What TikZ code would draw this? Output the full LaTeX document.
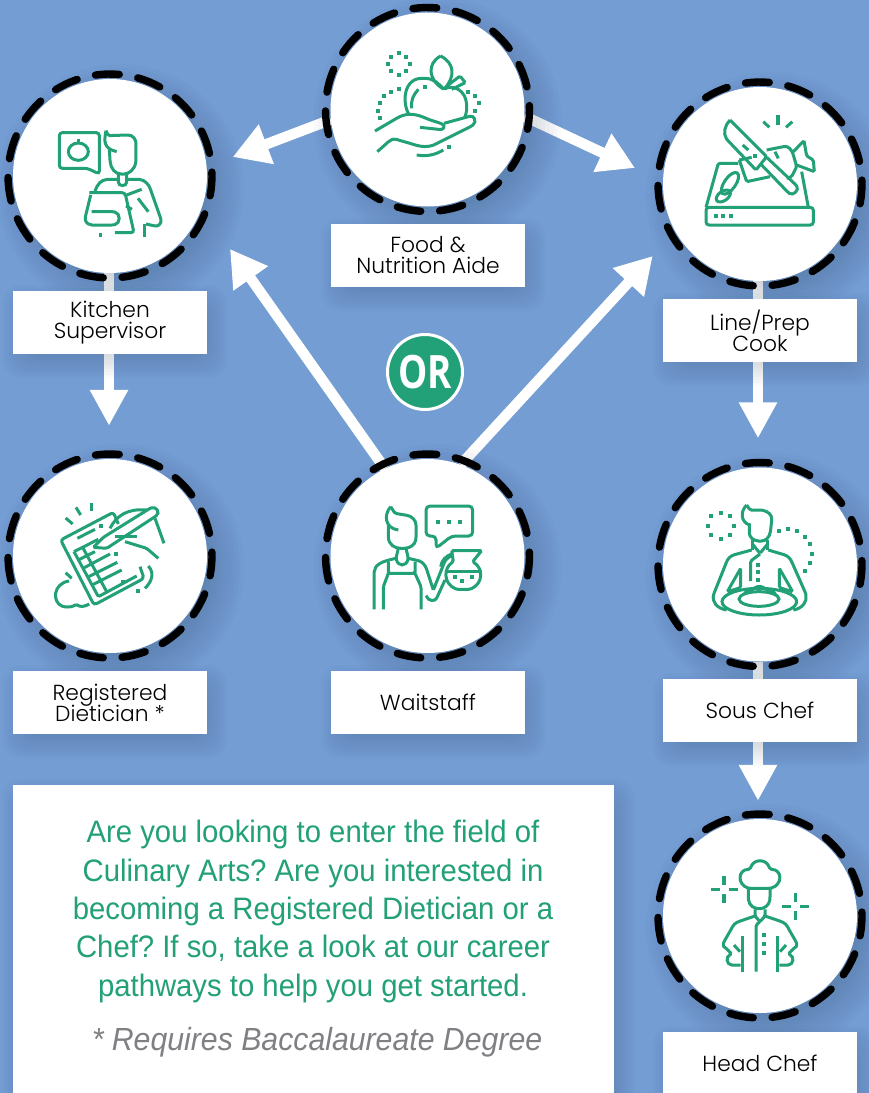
\documentclass[tikz,border=0pt]{standalone}
\usepackage{fontspec}
\usetikzlibrary{arrows.meta,backgrounds}
\setmainfont{Liberation Sans}
\newfontfamily\labelfont{Poppins Light}
\newfontfamily\introfont[FakeStretch=.945]{Liberation Sans}
\newfontfamily\orfont[FakeStretch=.8]{Open Sans}
\definecolor{skyblue}{HTML}{739DD3}
\definecolor{leafgreen}{HTML}{22A077}
\definecolor{shadownavy}{HTML}{1C2C4C}
\definecolor{notegray}{HTML}{808084}
\tikzset{
  careerstop/.style={circle, fill=white, minimum size=194pt, inner sep=0pt},
  careerring/.style={draw=black, line width=7.4pt, line cap=round},
  careerlabel/.style={fill=white, minimum width=194pt, minimum height=63pt, inner sep=0pt, align=center, font={\labelfont\fontsize{21.8}{21}\selectfont\lineskiplimit=-20pt}},
  careerarrow/.style={draw=white, line width=10.5pt, -{Triangle[length=36pt,width=40pt]}},
  downarrow/.style={draw=white, line width=10.5pt, -{Triangle[length=36pt,width=36pt]}},
  softshade/.style={fill=shadownavy, opacity=.018},
  iconline/.style={draw=leafgreen, line width=3pt, rounded corners=1.5pt},
  icondot/.style={fill=leafgreen}
}
% square dots of the icons
\newcommand{\icondots}[1]{\foreach \x/\y in {#1}{\fill[icondot] (\x-6,\y-6) rectangle ++(12,12);}}
% blurred shadows
\newcommand{\softcircle}[2]{\foreach \s in {0,...,9}{\fill[softshade] (#1+10,#2+12) circle ({124-\s*4 pt});}}
\newcommand{\softbox}[4]{\foreach \s in {0,...,9}{\fill[softshade, rounded corners=18pt] (#1-10+\s*3,#2-6+\s*3) rectangle (#3+20-\s*3,#4+24-\s*3);}}
\begin{document}
\begin{tikzpicture}[x=1pt,y=-1pt]
	\useasboundingbox (0,0) rectangle (868,1093);
	% circles
	\node[careerstop] (food) at (427.5,109.5) {};
	\node[careerstop] (kitchen) at (110,176) {};
	\node[careerstop] (linecook) at (760,184) {};
	\node[careerstop] (dietician) at (110,556) {};
	\node[careerstop] (waitstaff) at (427.5,556) {};
	\node[careerstop] (souschef) at (760,564.5) {};
	\node[careerstop] (headchef) at (760,916) {};
	\foreach \n in {food,kitchen,linecook,dietician,waitstaff,souschef,headchef}{
		\foreach \a in {0,...,14}{
			\draw[careerring] ([shift={(84.8+24*\a:102pt)}]\n.center) arc [start angle=84.8+24*\a, delta angle=13.4, radius=102pt];
		};
	};
	% labels
	\node[careerlabel] (foodlabel) at (428,255.5) {Food \&\\Nutrition Aide};
	\node[careerlabel] (kitchenlabel) at (110,322.5) {Kitchen\\Supervisor};
	\node[careerlabel] (linelabel) at (760,330.5) {Line/Prep\\Cook};
	\node[careerlabel] (dieticianlabel) at (110,702.5) {Registered\\Dietician *};
	\node[careerlabel] (waitlabel) at (428,702.5) {Waitstaff};
	\node[careerlabel] (souslabel) at (760,710.5) {Sous Chef};
	\node[careerlabel] (headlabel) at (760,1063.5) {Head Chef};
	\node[fill=white, minimum width=601pt, minimum height=320pt, inner sep=0pt] (introbox) at (313,945) {};
	\node[text=leafgreen, align=center, font=\introfont\frenchspacing\fontsize{31}{38.3}\selectfont] (introtext) at (313,911.5) {Are you looking to enter the field of\\Culinary Arts? Are you interested in\\becoming a Registered Dietician or a\\Chef? If so, take a look at our career\\pathways to help you get started.};
	\node[text=notegray, font=\introfont\itshape\fontsize{32}{34}\selectfont] (degreenote) at (317,1042) {* Requires Baccalaureate Degree};
	\node[circle, fill=leafgreen, draw=white, line width=3pt, minimum size=75pt, inner sep=0pt, text=white, font=\orfont\bfseries\fontsize{46}{46}\selectfont] (ornode) at (425,372) {OR};
	% arrow tips that stop short of the circles
	\coordinate (kitchentip) at (232.7,157);
	\coordinate (linetip) at (635,168);
	\coordinate (kitchentipb) at (230,249);
	\coordinate (linetipb) at (652.7,256);
	\begin{scope}[on background layer]
		\fill[skyblue] (-2,-2) rectangle (870,1095);
		\draw[careerarrow] (food.186) -- (kitchentip);
		\draw[careerarrow] (food.356) -- (linetip);
		\draw[careerarrow] (waitstaff.116) -- (kitchentipb);
		\draw[careerarrow] (waitstaff.70) -- (linetipb);
		\draw[downarrow, shorten >=33pt] ([xshift=-1pt]kitchen.south) -- ([xshift=-1pt]dietician.north);
		\draw[downarrow, shorten >=29pt] ([xshift=-2pt]linecook.south) -- ([xshift=-2pt]souschef.north);
		\draw[downarrow, shorten >=18pt] ([xshift=-2pt]souschef.south) -- ([xshift=-2pt]headchef.north);
		\softcircle{427.5}{109.5}
		\softcircle{110}{176}
		\softcircle{760}{184}
		\softcircle{110}{556}
		\softcircle{427.5}{556}
		\softcircle{760}{564.5}
		\softcircle{760}{916}
		\softbox{331}{224}{525}{287}
		\softbox{13}{291}{207}{354}
		\softbox{663}{299}{857}{362}
		\softbox{13}{671}{207}{734}
		\softbox{331}{671}{525}{734}
		\softbox{663}{679}{857}{742}
		\softbox{663}{1032}{857}{1095}
		\softbox{12}{785}{614}{1105}
	\end{scope}
	% food aide
	\begin{scope}[shift={(320,0)},scale=1/3]
		\icondots{237/158,258/170,270/192,258/214,237/225,213/214,204/192,213/170,180/353,174/332,180/309,192/288,213/275,237/268,444/276,465/288,477/309,465/332,315/260,388/440}
		\draw[iconline] (268,345) .. controls (245,310) and (250,235) .. (310,235) .. controls (340,235) and (355,250) .. (372,268) .. controls (395,255) and (440,265) .. (440,325) .. controls (440,335) and (437,345) .. (433,355);
		\draw[iconline] (275,325) .. controls (272,300) and (280,285) .. (295,268);
		\draw[iconline] (362,168) .. controls (320,190) and (325,240) .. (372,268) .. controls (405,230) and (405,190) .. (362,168);
		\draw[iconline] (385,255) -- (420,228) -- (436,248) -- (395,268);
		\draw[iconline] (165,393) -- (235,352) .. controls (265,338) and (290,342) .. (325,358) -- (362,370) .. controls (378,378) and (370,390) .. (355,388) -- (300,382);
		\draw[iconline] (372,370) -- (445,350) .. controls (462,345) and (472,365) .. (455,378) -- (355,428) .. controls (325,445) and (300,440) .. (270,430) -- (235,420) .. controls (220,415) and (210,420) .. (200,430) -- (172,455);
		\draw[iconline] (290,465) .. controls (320,470) and (345,465) .. (370,450);
	\end{scope}
	% kitchen supervisor
	\begin{scope}[shift={(0,70)},scale=1/3]
		\draw[iconline, rounded corners=3pt] (178,188) -- (298,188) -- (298,312) -- (262,295) -- (178,295) -- cycle;
		\draw[iconline] (235,245) ellipse (30pt and 26pt);
		\draw[iconline] (235,208) -- (235,222);
		\draw[iconline] (318,182) .. controls (312,215) and (310,235) .. (350,245);
		\draw[iconline] (318,182) -- (325,197) -- (380,195) .. controls (400,195) and (408,210) .. (408,225) -- (408,270) .. controls (405,300) and (385,312) .. (368,312) .. controls (345,312) and (332,295) .. (330,270) -- (328,240);
		\draw[iconline] (355,310) -- (355,332) .. controls (355,350) and (380,350) .. (380,332) -- (380,308);
		\draw[iconline] (285,365) .. controls (292,340) and (305,330) .. (325,328) -- (355,328);
		\draw[iconline] (380,328) -- (415,328) .. controls (435,330) and (447,345) .. (452,360) -- (482,445) .. controls (485,460) and (475,468) .. (465,468) -- (438,462);
		\draw[iconline, rounded corners=3pt] (268,368) -- (375,368) -- (402,488) -- (345,488);
		\draw[iconline] (272,375) -- (255,445) .. controls (258,460) and (268,465) .. (280,465) -- (340,465) .. controls (362,460) and (362,430) .. (340,425) -- (275,425);
		\draw[iconline] (380,375) -- (425,358);
		\draw[iconline] (378,408) -- (396,418);
		\draw[iconline] (414,385) -- (445,425);
		\draw[iconline] (303,488) -- (303,500);
		\draw[iconline] (435,462) -- (435,500);
	\end{scope}
	% line cook
	\begin{scope}[shift={(650,70)},scale=1/3]
		\draw[iconline, rounded corners=3pt] (168,412) -- (490,412) -- (490,465) -- (168,465) -- cycle;
		\draw[iconline] (168,412) -- (205,280) -- (265,280);
		\draw[iconline] (455,305) -- (475,412);
		\icondots{198/437,220/437,243/437,315/258}
		\draw[iconline, rotate around={55:(240,340)}] (240,340) ellipse (38pt and 17pt);
		\draw[iconline, rotate around={35:(220,378)}] (220,378) ellipse (24pt and 14pt);
		\draw[iconline] (240,150) -- (350,260) -- (318,300) -- (232,210) .. controls (218,190) and (225,165) .. (240,150);
		\draw[iconline] (350,262) -- (438,345) .. controls (448,360) and (430,378) .. (415,368) -- (335,285);
		\draw[iconline] (278,225) -- (295,240);
		\draw[iconline] (268,270) -- (290,335) -- (360,320);
		\draw[iconline] (268,270) -- (305,262);
		\draw[iconline] (350,240) -- (400,230) .. controls (415,228) and (425,240) .. (430,255) -- (440,290) -- (425,320) -- (410,325);
		\draw[iconline] (430,245) -- (462,212) -- (470,258) -- (490,270) -- (493,305) -- (440,285);
		\draw[iconline] (375,245) -- (385,265);
		\draw[iconline, line width=3.4pt] (384,135) -- (384,165);
		\draw[iconline] (340,155) -- (358,172);
		\draw[iconline] (427,155) -- (408,172);
	\end{scope}
	% dietician
	\begin{scope}[shift={(0,450)},scale=1/3]
		\draw[iconline, line width=3.4pt] (275,160) -- (275,182);
		\draw[iconline] (228,172) -- (242,195);
		\draw[iconline] (197,204) -- (218,222);
		\draw[iconline, rounded corners=3pt] (355,222) -- (340,187) -- (182,270) -- (282,465) -- (432,385) -- (420,350);
		\draw[iconline] (222,305) -- (295,440) -- (410,378);
		\draw[iconline] (222,305) -- (295,268);
		\draw[iconline] (232,265) -- (285,238);
		\draw[iconline] (248,292) -- (320,425);
		\draw[iconline] (235,330) -- (285,305);
		\draw[iconline] (249,355) -- (330,312);
		\draw[iconline] (262,382) -- (352,337);
		\draw[iconline] (276,405) -- (365,360);
		\icondots{302/228,348/312,370/396,415/423}
		\draw[iconline] (280,292) -- (310,262) -- (450,175) .. controls (468,168) and (482,188) .. (465,200) -- (320,295) -- cycle;
		\draw[iconline] (330,235) .. controls (350,195) and (385,175) .. (440,180);
		\draw[iconline] (345,258) -- (412,258);
		\draw[iconline] (465,205) -- (492,280);
		\draw[iconline] (375,275) -- (440,295) -- (475,325);
		\draw[iconline] (445,348) .. controls (465,370) and (455,395) .. (435,415);
		\draw[iconline] (207,393) .. controls (160,400) and (155,455) .. (190,470) .. controls (205,472) and (220,470) .. (228,462) .. controls (240,472) and (255,470) .. (268,462);
		\draw[iconline] (197,368) -- (215,385);
	\end{scope}
	% waitstaff
	\begin{scope}[shift={(320,450)},scale=1/3]
		\draw[iconline] (212,170) .. controls (190,195) and (195,235) .. (235,240);
		\draw[iconline] (212,170) -- (225,190) -- (255,195) .. controls (275,198) and (288,210) .. (288,230) -- (288,265) .. controls (285,285) and (270,295) .. (247,295) .. controls (225,295) and (205,285) .. (205,255) -- (205,225);
		\draw[iconline] (235,295) -- (228,325) .. controls (235,350) and (258,350) .. (265,325) -- (258,295);
		\draw[iconline] (162,478) -- (162,370) .. controls (165,345) and (180,335) .. (228,325);
		\draw[iconline] (265,325) -- (295,332) .. controls (305,335) and (312,342) .. (318,352) -- (340,420) -- (370,345) .. controls (375,330) and (385,320) .. (400,315);
		\draw[iconline] (205,335) -- (205,370) -- (285,370) -- (285,335);
		\draw[iconline] (205,370) -- (190,410) -- (190,478);
		\draw[iconline] (285,370) -- (303,410) -- (303,478);
		\draw[iconline] (318,437) .. controls (325,455) and (345,455) .. (352,440) -- (375,390);
		\draw[iconline] (395,302) -- (485,302) -- (458,335) .. controls (490,355) and (490,400) .. (450,418) -- (410,418) .. controls (370,400) and (370,355) .. (400,335) -- cycle;
		\draw[iconline] (382,365) -- (485,365);
		\icondots{405/382,427/392,455/382,354/215,386/215,420/215}
		\draw[iconline] (395,312) .. controls (378,318) and (365,330) .. (362,350);
		\draw[iconline, rounded corners=4pt] (318,168) -- (458,168) -- (458,258) -- (395,258) -- (348,295) -- (348,258) -- (318,258) -- cycle;
	\end{scope}
	% sous chef
	\begin{scope}[shift={(650,455)},scale=1/3]
		\icondots{213/173,240/182,252/212,240/240,213/252,183/240,174/212,183/182,387/227,414/221,441/227,465/245,480/266,486/296,480/323,465/347,323/330,323/352,323/375}
		\draw[iconline] (290,150) .. controls (270,170) and (272,200) .. (298,210);
		\draw[iconline] (290,150) -- (300,165) -- (335,165) .. controls (355,170) and (365,180) .. (365,195) -- (362,225) .. controls (358,250) and (345,258) .. (330,258) .. controls (310,258) and (298,245) .. (298,230) -- (298,205);
		\draw[iconline] (308,255) -- (308,285);
		\draw[iconline] (352,255) -- (352,285);
		\draw[iconline] (308,268) -- (330,295) -- (352,268);
		\draw[iconline] (330,297) -- (302,318) -- (302,378);
		\draw[iconline] (305,285) -- (250,300) .. controls (240,305) and (235,310) .. (230,320) -- (192,415) .. controls (185,440) and (200,460) .. (230,465);
		\draw[iconline] (355,285) -- (405,300) .. controls (415,305) and (420,310) .. (425,320) -- (467,415) .. controls (472,440) and (458,460) .. (430,465);
		\draw[iconline] (272,340) -- (232,410) -- (272,398) -- cycle;
		\draw[iconline] (388,340) -- (428,410) -- (388,398) -- cycle;
		\draw[iconline] (328,440) ellipse (112pt and 40pt);
		\draw[iconline] (327,432) ellipse (60pt and 22pt);
		\draw[iconline] (282,418) .. controls (295,400) and (305,405) .. (310,402) .. controls (325,390) and (340,395) .. (348,405) .. controls (360,403) and (375,410) .. (378,422);
	\end{scope}
	% head chef
	\begin{scope}[shift={(650,810)},scale=1/3]
		\draw[iconline, line width=3.2pt] (222,198) -- (222,225) (222,252) -- (222,278) (183,239) -- (210,239) (236,239) -- (263,239);
		\draw[iconline, line width=3.2pt] (437,250) -- (437,276) (437,303) -- (437,329) (396,290) -- (423,290) (450,290) -- (477,290);
		\draw[iconline] (298,235) .. controls (262,225) and (262,178) .. (300,178) .. controls (310,145) and (350,145) .. (360,178) .. controls (398,178) and (398,225) .. (360,235) -- cycle;
		\draw[iconline] (295,235) -- (295,265) .. controls (300,305) and (355,305) .. (360,265) -- (360,235);
		\draw[iconline] (315,298) -- (315,318) -- (330,335) -- (345,318) -- (345,298);
		\draw[iconline] (315,318) -- (265,335) .. controls (255,340) and (250,345) .. (245,355) -- (222,395) .. controls (218,405) and (222,410) .. (225,412) -- (245,432) .. controls (225,440) and (230,465) .. (250,465) -- (272,465);
		\draw[iconline] (345,318) -- (395,335) .. controls (405,340) and (410,345) .. (415,355) -- (438,395) .. controls (442,405) and (438,410) .. (435,412) -- (415,432) .. controls (435,440) and (430,465) .. (410,465) -- (388,465);
		\draw[iconline, line width=3.2pt] (278,378) -- (278,485);
		\draw[iconline, line width=3.2pt] (382,378) -- (382,485);
		\draw[iconline] (330,335) -- (318,345) -- (318,485);
		\icondots{341/374,341/401,341/428}
		\draw[iconline] (252,405) -- (270,425);
		\draw[iconline] (408,405) -- (390,425);
	\end{scope}
\end{tikzpicture}
\end{document}
